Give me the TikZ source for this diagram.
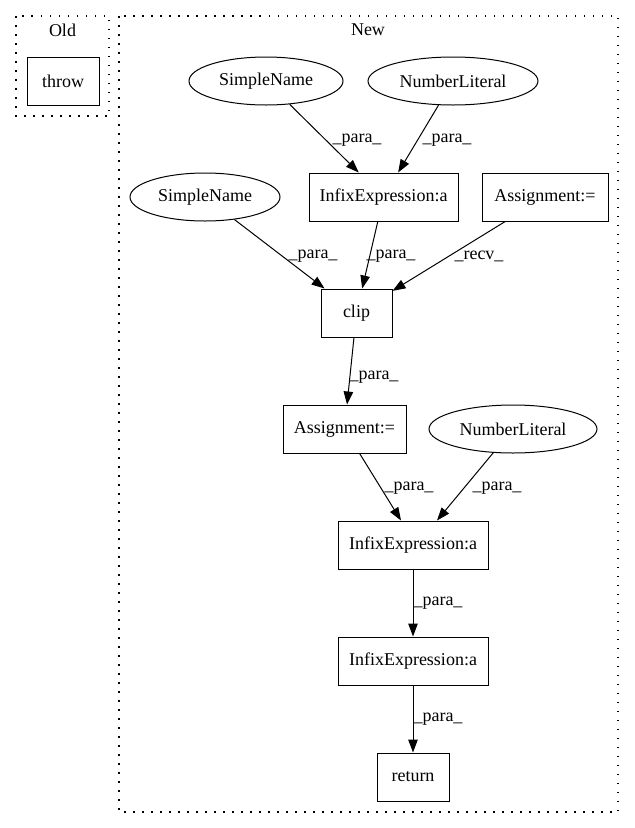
\documentclass[tikz,border=0pt]{standalone}
\usepackage{fontspec}
\setmainfont{Liberation Serif}
\usetikzlibrary{arrows.meta,shapes.geometric}
\begin{document}
\begin{tikzpicture}[x=1pt,y=-1pt, font=\fontsize{18}{20}\selectfont,
 box/.style={draw, line width=1pt, rectangle, minimum height=48pt, inner sep=0pt},
 ell/.style={draw, line width=1pt, ellipse, minimum height=48pt, inner sep=0pt},
 arr/.style={line width=1pt, -{Triangle[length=13pt,width=9.5pt]}},
 lbl/.style={inner sep=0pt},
 cluster/.style={line width=1.3pt, dash pattern=on 1.5pt off 7.5pt}]
\useasboundingbox (0,0) rectangle (635,828);
% clusters
\draw[cluster] (16,16) rectangle (109,116);
\node[lbl] (oldlbl) at (62.5,30) {Old};
\draw[cluster] (119,16) rectangle (618,812);
\node[lbl] (newlbl) at (368,30) {New};
% nodes
\node[box, minimum width=72pt] (throw) at (63,81) {throw};
\node[ell, minimum width=154pt] (sn1) at (266,81) {SimpleName};
\node[ell, minimum width=170pt] (nl1) at (453,81) {NumberLiteral};
\node[box, minimum width=149pt] (ie1) at (383.5,197) {InfixExpression:a};
\node[box, minimum width=126pt] (as1) at (545,197) {Assignment:=};
\node[ell, minimum width=150pt] (sn2) at (205,197) {SimpleName};
\node[box, minimum width=71pt] (clip) at (356.5,313) {clip};
\node[box, minimum width=123pt] (as2) at (344.5,429) {Assignment:=};
\node[ell, minimum width=168pt] (nl2) at (513,429) {NumberLiteral};
\node[box, minimum width=150pt] (ie2) at (413,545) {InfixExpression:a};
\node[box, minimum width=150pt] (ie3) at (413,661) {InfixExpression:a};
\node[box, minimum width=72pt] (ret) at (413,777) {return};
% edges
\draw[arr] (sn1) -- (ie1) node[lbl] at (357,140) {\_para\_};
\draw[arr] (nl1) -- (ie1) node[lbl] at (447,140) {\_para\_};
\draw[arr] (sn2) -- (clip) node[lbl] at (313,256) {\_para\_};
\draw[arr] (ie1) -- (clip) node[lbl] at (391,256) {\_para\_};
\draw[arr] (as1) -- (clip) node[lbl] at (479,256) {\_recv\_};
\draw[arr] (clip) -- (as2) node[lbl] at (374,377) {\_para\_};
\draw[arr] (as2) -- ([xshift=-12pt]ie2.north);
\node[lbl] (l7) at (409,488) {\_para\_};
\draw[arr] (nl2) -- ([xshift=24pt]ie2.north);
\node[lbl] (l8) at (497,488) {\_para\_};
\draw[arr] (ie2) -- (ie3) node[lbl] at (438,603) {\_para\_};
\draw[arr] (ie3) -- (ret) node[lbl] at (438,719) {\_para\_};
\end{tikzpicture}
\end{document}
